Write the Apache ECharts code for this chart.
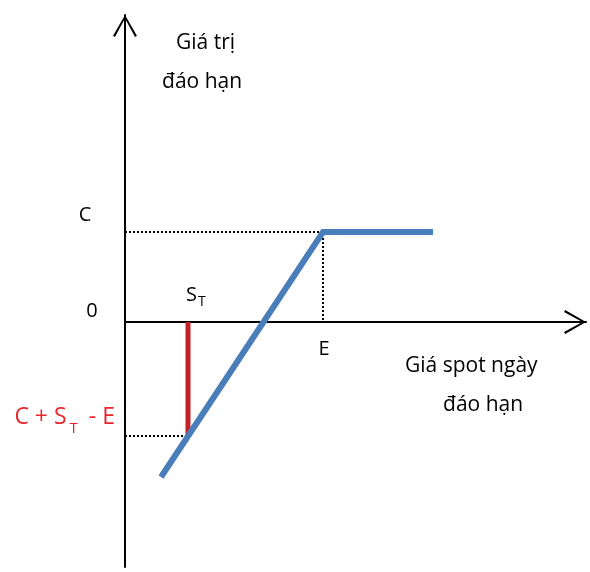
<!DOCTYPE html>
<html>
<head>
<meta charset="utf-8">
<script src="https://cdn.jsdelivr.net/npm/echarts@6/dist/echarts.min.js"></script>
<style>
  html, body { margin: 0; padding: 0; background: #fff; }
  #chart { width: 590px; height: 572px; }
</style>
</head>
<body>
<div id="chart"></div>
<script>
// Payoff diagram: value at expiry versus spot price at expiry
const strikeE = 198;          // E on the spot axis
const capC = 90;              // C, the flat payoff level
const spotST = 63;            // S_T, an example spot below the strike
const lowPayoff = -114;       // C + S_T - E at that spot
const payoffX = [36, 198, 308];
const payoffY = [-155, 90, 90];
const xRange = [0, 461];
const yRange = [-245, 307];

const FONT = 'Open Sans';
const INK = '#000';
const RED = '#e8262b';
const chevron = 'path://M0,21 L12,0 L24,21 L22.2,22.2 L12,3.6 L1.8,22.2 Z';

const payoffData = payoffX.map((x, i) => [x, payoffY[i]]);

const chart = echarts.init(document.getElementById('chart'), null, { renderer: 'canvas' });

const baseAxis = {
  type: 'value',
  splitLine: { show: false },
  axisTick: { show: false },
  axisLabel: { show: false },
  axisLine: {
    show: true,
    symbol: ['none', chevron],
    symbolSize: [24, 22],
    symbolOffset: [0, -11],
    lineStyle: { color: INK, width: 2 }
  }
};

const dotted = { color: INK, width: 2, type: [2, 2] };

chart.setOption({
  animation: false,
  grid: { left: 125, right: 4, top: 15, bottom: 5 },
  xAxis: Object.assign({}, baseAxis, { min: xRange[0], max: xRange[1] }),
  yAxis: Object.assign({}, baseAxis, { min: yRange[0], max: yRange[1] }),
  series: [
    {
      type: 'line', symbol: 'none', silent: true,
      lineStyle: dotted,
      data: [[0, capC], [strikeE, capC], [strikeE, 0]]
    },
    {
      type: 'line', symbol: 'none', silent: true,
      lineStyle: dotted,
      data: [[0, lowPayoff], [spotST, lowPayoff]]
    },
    {
      type: 'line', symbol: 'none', silent: true,
      lineStyle: { color: '#c62026', width: 5 },
      data: [[spotST, 0], [spotST, lowPayoff]]
    },
    {
      type: 'line', symbol: 'none', silent: true,
      lineStyle: { color: '#4a7ebb', width: 6, cap: 'butt', join: 'miter' },
      data: payoffData
    }
  ]
});

// Text measuring for laying out subscripts piece by piece
const measureCtx = document.createElement('canvas').getContext('2d');
function textWidth(text, size) {
  measureCtx.font = size + 'px "' + FONT + '"';
  return measureCtx.measureText(text).width;
}

function plain(text, x, y, size, color, align) {
  return {
    type: 'text', x: x, y: y, silent: true,
    style: {
      text: text, fontFamily: FONT, fontSize: size, fill: color,
      align: align || 'left', verticalAlign: 'middle'
    }
  };
}

// A run of text pieces (for subscripts) anchored at a data point.
// Each piece: [text, fontSize, dy, gapBefore]
function run(value, dx, pieces, color, alignRight) {
  const p = chart.convertToPixel({ gridIndex: 0 }, value);
  let total = 0;
  pieces.forEach(pc => { total += (pc[3] || 0) + textWidth(pc[0], pc[1]); });
  let x = p[0] + dx - (alignRight ? total : 0);
  return pieces.map(pc => {
    x += pc[3] || 0;
    const el = plain(pc[0], x, p[1] + pc[2], pc[1], color);
    x += textWidth(pc[0], pc[1]);
    return el;
  });
}

function tag(value, text, offset) {
  const p = chart.convertToPixel({ gridIndex: 0 }, value);
  return plain(text, p[0] + offset[0], p[1] + offset[1], 20, INK, 'center');
}

chart.setOption({
  graphic: [
    plain('Giá trị', 176, 43, 21, INK),
    plain('đáo hạn', 162, 82, 21, INK),
    plain('Giá spot ngày', 405, 366, 21, INK),
    plain('đáo hạn', 443, 405, 21, INK),
    tag([0, capC], 'C', [-40, -17]),
    tag([0, 0], '0', [-33, -11]),
    tag([strikeE, 0], 'E', [1, 27])
  ]
    .concat(run([spotST, 0], -2, [['S', 20, -27], ['T', 14, -20, 1]], INK, false))
    .concat(run([0, lowPayoff], -10,
      [['C + S', 23, -18.5], ['T', 15, -7.5, 3], [' - E', 23, -18.5, 5]], RED, true))
});
</script>
</body>
</html>
